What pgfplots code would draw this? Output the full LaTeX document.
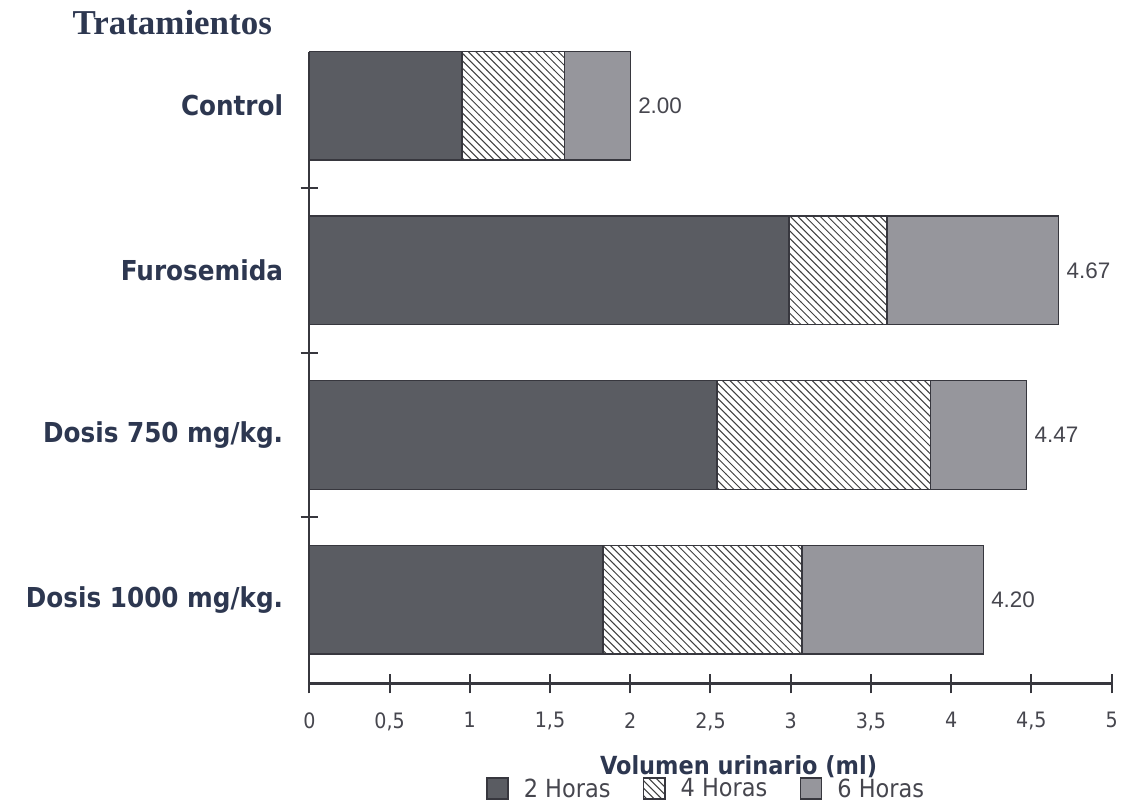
\documentclass[border=0pt]{standalone}
\usepackage{pgfplots}
\pgfplotsset{compat=1.18}
\usepackage{pgfplotstable}
\usepackage{fontspec}
\setmainfont{Liberation Sans}
\newfontfamily\condfont{DejaVu Sans Condensed}
\newfontfamily\serifb{Liberation Serif}
\usetikzlibrary{patterns}
\definecolor{txt}{RGB}{45,55,80}
\definecolor{tickc}{RGB}{70,70,78}
\definecolor{dark}{RGB}{90,92,98}
\definecolor{mid}{RGB}{150,150,156}
\definecolor{edge}{RGB}{55,55,62}
\pgfplotstableread{
y h2 h4 h6 tot lab
3 0.95 0.64 0.41 2.00 2.00
2 2.99 0.61 1.07 4.67 4.67
1 2.54 1.33 0.60 4.47 4.47
0 1.83 1.24 1.13 4.20 4.20
}\datatab
\pgfplotsset{geom/.style={scale only axis, width=321.6pt, height=253.2pt,
  xmin=0, xmax=5, ymin=-0.509, ymax=3.327, clip=false}}
\begin{document}
\begin{tikzpicture}
\begin{axis}[
  geom,
  xbar stacked,
  bar width=43.6pt,
  axis x line*=bottom, axis y line*=left,
  axis line style={edge, line width=0.9pt},
  xtick={0,0.5,...,5},
  /pgf/number format/assume math mode=true,
  /pgf/number format/use comma,
  xticklabel style={font=\condfont\fontsize{8.5}{10}\selectfont, text=tickc, yshift=-4pt},
  tick align=center,
  major tick length=8pt,
  minor tick length=7pt,
  tick style={edge, line width=0.8pt},
  ytick={0,1,2,3},
  yticklabels={Dosis 1000 mg/kg., Dosis 750 mg/kg., Furosemida, Control},
  yticklabel style={font=\condfont\bfseries\fontsize{11}{13}\selectfont, text=txt, xshift=-3pt},
  major y tick style={draw=none},
  minor ytick={0.5,1.5,2.5},
  minor y tick style={draw=edge, line width=0.8pt},
  legend style={at={(rel axis cs:0.498,-0.168)}, anchor=center, draw=none, fill=none,
    legend columns=3, font=\condfont\fontsize{10}{12}\selectfont, text=tickc,
    nodes={inner xsep=3pt},
    /tikz/every odd column/.append style={column sep=3pt},
    /tikz/every even column/.append style={column sep=10pt}},
  legend image code/.code={\draw[#1,/tikz/.cd,yshift=-0.38em] (0em,0em) rectangle (0.85em,0.85em);},
]
\addplot[fill=dark, draw=edge, line width=0.6pt] table[x=h2, y=y] {\datatab};
\addlegendentry{2 Horas}
\addplot[fill=white, pattern=north west lines, pattern color=black!75, draw=edge, line width=0.6pt] table[x=h4, y=y] {\datatab};
\addlegendentry{4 Horas}
\addplot[fill=mid, draw=edge, line width=0.6pt] table[x=h6, y=y] {\datatab};
\addlegendentry{6 Horas}
\node[anchor=west, font=\serifb\bfseries\fontsize{14}{16}\selectfont, text=txt] at (rel axis cs:-0.306,1.047) {Tratamientos};
\node[anchor=center, font=\condfont\bfseries\fontsize{10}{12}\selectfont, text=txt] at (rel axis cs:0.535,-0.131) {Volumen urinario (ml)};
\coordinate (bbA) at (rel axis cs:-0.3856,-0.1959);
\coordinate (bbB) at (rel axis cs:1.0149,1.0821);
\end{axis}
\begin{axis}[geom, hide axis]
\addplot[draw=none, mark=none, point meta=explicit symbolic,
  nodes near coords,
  every node near coord/.append style={font=\fontsize{9}{11}\selectfont, text=tickc, anchor=west, inner xsep=3pt}]
  table[x=tot, y=y, meta=lab] {\datatab};
\end{axis}
\path (bbA) rectangle (bbB);
\end{tikzpicture}
\end{document}
